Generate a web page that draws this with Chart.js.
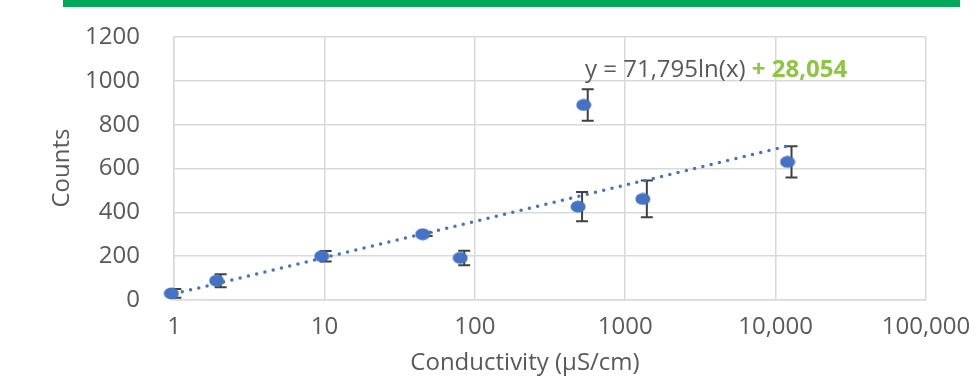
<!DOCTYPE html>
<html>
<head>
<meta charset="utf-8">
<script src="https://cdn.jsdelivr.net/npm/chart.js@4"></script>
<style>
  html, body { margin: 0; padding: 0; background: #fff; }
  #wrap { width: 980px; height: 378px; }
</style>
</head>
<body>
<div id="wrap"><canvas id="chart" width="980" height="378"></canvas></div>
<script>
// measured points (conductivity, counts, error)
const conductivity = [0.96, 1.92, 9.6, 45, 80, 530, 486, 1310, 12000];
const counts = [30, 88, 200, 300, 192, 890, 426, 461, 630];
const errors = [20, 30, 24, 8, 33, 72, 67, 84, 71];

const xTickValues = [1, 10, 100, 1000, 10000, 100000];
const xTickLabels = ["1", "10", "100", "1000", "10,000", "100,000"];
const yTickLabels = ["0", "200", "400", "600", "800", "1000", "1200"];

// log trendline shown on the chart
const trendSlope = 71.795;
const trendIntercept = 28.054;
const trendRange = [1, 12800];

const FONT = "'Open Sans', 'Noto Sans', sans-serif";
const SIZE = 24;
const GREY = "#595959";
const BLUE = "#4472C4";

// oval marker like the Excel one
const dot = document.createElement("canvas");
dot.width = 16;
dot.height = 13;
const dctx = dot.getContext("2d");
dctx.fillStyle = BLUE;
dctx.beginPath();
dctx.ellipse(8, 6.5, 7.5, 6, 0, 0, Math.PI * 2);
dctx.fill();

const points = conductivity.map((x, i) => ({ x: x, y: counts[i] }));
const trend = trendRange.map(x => ({ x: x, y: trendSlope * Math.log(x) + trendIntercept }));

const errorBars = {
  id: "errorBars",
  beforeDatasetsDraw(chart) {
    const { ctx, scales: { x, y } } = chart;
    ctx.save();
    ctx.strokeStyle = "#404040";
    ctx.lineWidth = 2;
    conductivity.forEach((cx, i) => {
      const px = x.getPixelForValue(cx) + 4;
      const top = y.getPixelForValue(counts[i] + errors[i]);
      const bot = y.getPixelForValue(counts[i] - errors[i]);
      ctx.beginPath();
      ctx.moveTo(px, top);
      ctx.lineTo(px, bot);
      ctx.moveTo(px - 6, top);
      ctx.lineTo(px + 6, top);
      ctx.moveTo(px - 6, bot);
      ctx.lineTo(px + 6, bot);
      ctx.stroke();
    });
    ctx.restore();
  }
};

const decorations = {
  id: "decorations",
  beforeDraw(chart) {
    const ctx = chart.ctx;
    ctx.save();
    ctx.fillStyle = "#00A85A";
    ctx.fillRect(63, 0, 897, 7);
    ctx.restore();
  },
  afterDraw(chart) {
    const { ctx, chartArea } = chart;
    ctx.save();
    ctx.fillStyle = GREY;
    ctx.font = SIZE + "px " + FONT;
    ctx.textBaseline = "middle";
    ctx.textAlign = "center";
    // axis titles
    ctx.fillText("Conductivity (µS/cm)", chartArea.left + 351, 363);
    ctx.save();
    ctx.translate(62, 168);
    ctx.rotate(-Math.PI / 2);
    ctx.fillText("Counts", 0, 0);
    ctx.restore();
    // trendline equation
    ctx.textAlign = "left";
    const part1 = "y = " + trendSlope.toFixed(3).replace(".", ",") + "ln(x) ";
    const ex = chartArea.left + 411;
    const ey = 70;
    ctx.fillText(part1, ex, ey);
    const w = ctx.measureText(part1).width;
    ctx.font = "bold " + SIZE + "px " + FONT;
    ctx.fillStyle = "#8CC63F";
    ctx.fillText("+ " + trendIntercept.toFixed(3).replace(".", ","), ex + w, ey);
    ctx.restore();
  }
};

new Chart(document.getElementById("chart"), {
  type: "scatter",
  data: {
    datasets: [
      {
        label: "Counts",
        data: points,
        pointStyle: dot,
        pointRadius: 7,
        clip: false,
      },
      {
        type: "line",
        label: "Trend",
        data: trend,
        borderColor: BLUE,
        borderWidth: 3.5,
        borderDash: [0, 8.5],
        borderCapStyle: "round",
        pointRadius: 0,
        fill: false,
      },
    ],
  },
  options: {
    responsive: false,
    animation: false,
    layout: {
      padding: { left: 0, right: 54, top: 37, bottom: 0 },
    },
    plugins: {
      legend: { display: false },
      tooltip: { enabled: false },
    },
    scales: {
      x: {
        type: "logarithmic",
        min: 1,
        max: 100000,
        afterBuildTicks: (scale) => {
          scale.ticks = xTickValues.map(v => ({ value: v }));
        },
        afterFit: (scale) => {
          scale.height = 78;
          scale.paddingLeft = 0;
          scale.paddingRight = 0;
        },
        ticks: {
          color: GREY,
          font: { family: FONT, size: SIZE },
          padding: 13,
          maxRotation: 0,
          autoSkip: false,
          callback: (v, i) => xTickLabels[i],
        },
        grid: { color: "#d9d9d9", lineWidth: 1.5, drawTicks: false },
        border: { color: "#d9d9d9", width: 1.5 },
      },
      y: {
        min: 0,
        max: 1200,
        afterFit: (scale) => {
          scale.width = 174;
          scale.paddingTop = 0;
          scale.paddingBottom = 0;
        },
        ticks: {
          stepSize: 200,
          color: GREY,
          font: { family: FONT, size: SIZE },
          padding: 34,
          callback: (v, i) => yTickLabels[i],
        },
        grid: { color: "#d9d9d9", lineWidth: 1.5, drawTicks: false },
        border: { color: "#d9d9d9", width: 1.5 },
      },
    },
  },
  plugins: [errorBars, decorations],
});
</script>
</body>
</html>
